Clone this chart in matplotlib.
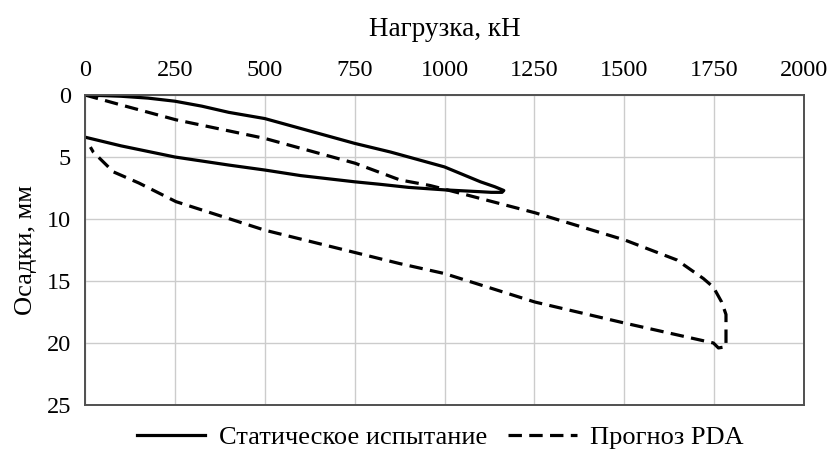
import matplotlib
matplotlib.use("Agg")
import matplotlib.pyplot as plt

# === DATA ===
# static load test: loading branch then unloading branch
static_load = [0, 100, 175, 250, 325, 400, 500, 650, 750, 850, 950, 1000, 1050, 1100, 1140, 1165,
               1160, 1130, 1100, 1000, 900, 820, 750, 600, 500, 400, 250, 100, 0]
static_settle = [0, 0.1, 0.25, 0.5, 0.9, 1.4, 1.9, 3.1, 3.9, 4.6, 5.4, 5.8, 6.4, 7.0, 7.4, 7.7,
                 7.85, 7.85, 7.8, 7.65, 7.45, 7.2, 7.0, 6.5, 6.05, 5.65, 5.0, 4.1, 3.4]

# PDA prediction
pda_load = [0, 100, 253, 500, 751, 876, 960, 1062, 1252, 1502, 1646, 1720, 1748, 1771, 1783,
            1783, 1762, 1748, 1502, 1252, 1000, 876, 820, 500, 253, 150, 79, 23, 15]
pda_settle = [0, 0.8, 2.0, 3.5, 5.5, 6.85, 7.3, 8.06, 9.5, 11.7, 13.3, 14.8, 15.5, 16.7, 17.7,
              20.3, 20.4, 20.0, 18.4, 16.7, 14.4, 13.6, 13.2, 10.9, 8.6, 7.1, 6.2, 4.6, 4.2]

x_ticks = [0, 250, 500, 750, 1000, 1250, 1500, 1750, 2000]
y_ticks = [0, 5, 10, 15, 20, 25]

# === STYLE ===
plt.rcParams["font.family"] = ["Liberation Serif", "DejaVu Serif"]
plt.rcParams["font.size"] = 17.5

fig = plt.figure(figsize=(8.32, 4.51), dpi=100)
ax = fig.add_axes([85 / 832, 1 - 405 / 451, (804 - 85) / 832, (405 - 95) / 451])

ax.plot(static_load, static_settle, color="black", lw=2.3, solid_joinstyle="round",
        label="Статическое испытание")
ax.plot(pda_load, pda_settle, color="black", lw=2.3, linestyle=(0, (4.2, 2.3)),
        dash_capstyle="butt", label="Прогноз PDA")

ax.set_xlim(0, 2000)
ax.set_ylim(25, 0)
ax.set_xticks(x_ticks)
ax.set_yticks(y_ticks)
ax.xaxis.tick_top()
ax.xaxis.set_label_position("top")
ax.tick_params(axis="x", length=0, pad=10)
ax.tick_params(axis="y", length=0, pad=10)
ax.grid(True, color="#cccccc", lw=1.0)
ax.set_axisbelow(True)
for sp in ax.spines.values():
    sp.set_color("#505050")
    sp.set_linewidth(1.4)

ax.set_xlabel("Нагрузка, кН", fontsize=19.5, labelpad=17)
ax.set_ylabel("Осадки, мм", fontsize=19, labelpad=7)

fig.legend(loc="center", bbox_to_anchor=(440 / 832, 1 - 437 / 451), ncol=2, frameon=False,
           fontsize=19, handlelength=2.6, handletextpad=0.5, columnspacing=0.8,
           borderaxespad=0)

fig.savefig("out.png", dpi=100)
